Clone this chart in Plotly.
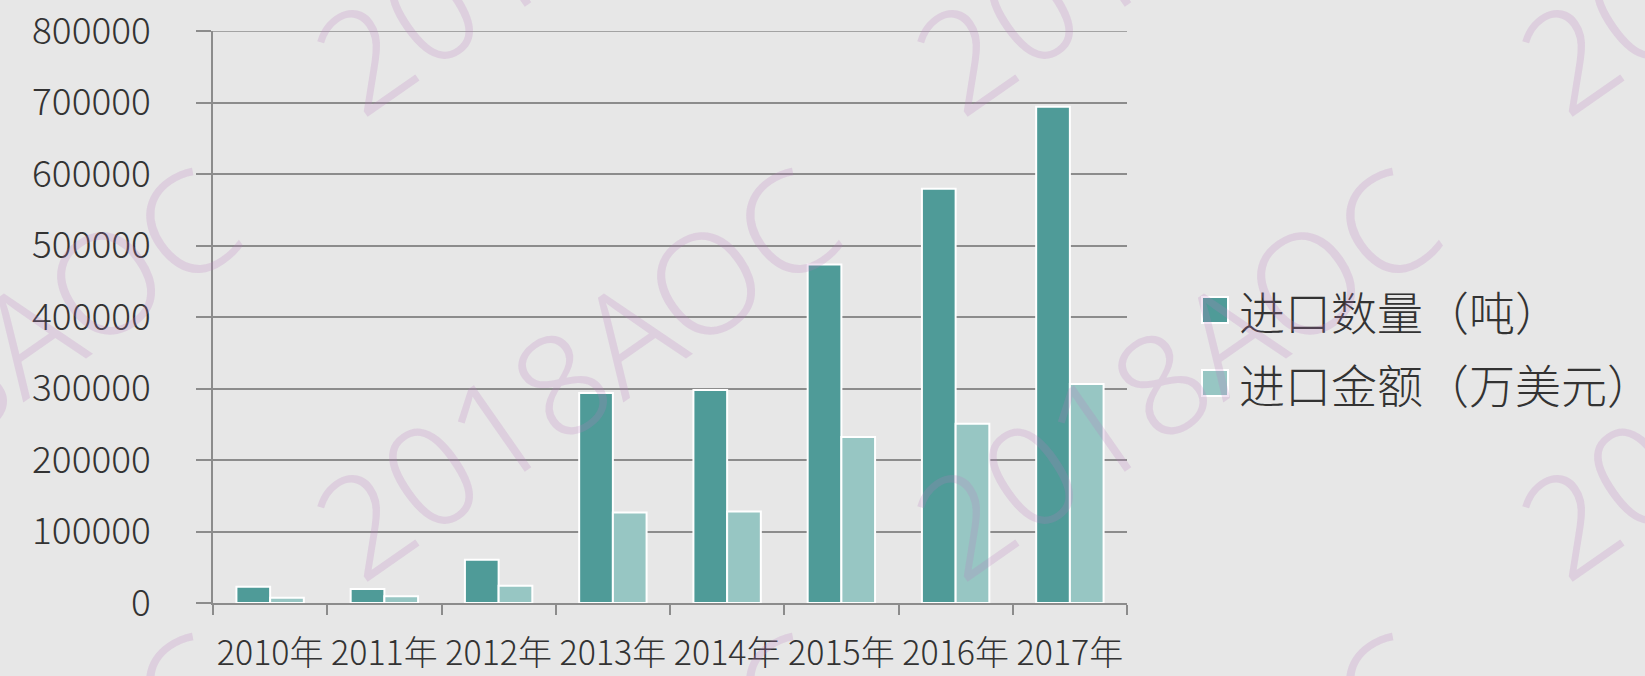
import plotly.graph_objects as go

categories = ["2010年", "2011年", "2012年", "2013年", "2014年", "2015年", "2016年", "2017年"]
qty_tons = [22800, 19600, 60600, 293600, 297800, 473300, 579200, 694000]
value_musd = [7400, 9400, 24300, 126500, 127900, 232000, 250600, 306200]
series_names = ["进口数量（吨）", "进口金额（万美元）"]
y_ticks = [0, 100000, 200000, 300000, 400000, 500000, 600000, 700000, 800000]

dark = "#4F9B98"
light = "#97C6C3"
grid = "#8C8C8C"
font_family = "Noto Sans CJK SC"

fig = go.Figure()
fig.add_trace(go.Bar(x=categories, y=qty_tons, name=series_names[0],
                     marker=dict(color=dark, line=dict(color="white", width=2)),
                     showlegend=False))
fig.add_trace(go.Bar(x=categories, y=value_musd, name=series_names[1],
                     marker=dict(color=light, line=dict(color="white", width=2)),
                     showlegend=False))

W, H = 1645, 676
ml, mr, mt, mb = 213, 518, 31, 73

fig.update_layout(
    width=W, height=H,
    margin=dict(l=ml, r=mr, t=mt, b=mb, autoexpand=False),
    paper_bgcolor="#E7E7E7", plot_bgcolor="#E7E7E7",
    barmode="group", bargap=0.41, bargroupgap=0.0,
    font=dict(family=font_family, color="#333333"),
)
fig.update_yaxes(range=[0, 800000], tickvals=y_ticks, ticktext=[str(v) for v in y_ticks],
                 automargin=False,
                 showgrid=True, gridcolor=grid, gridwidth=1.5,
                 showline=True, linecolor=grid, linewidth=1.5,
                 ticks="outside", ticklen=15, tickcolor=grid, tickwidth=1.5,
                 ticklabelstandoff=38, zeroline=False,
                 tickfont=dict(size=37, family=font_family, weight=300, color="#333333"))
fig.update_xaxes(type="category", tickson="boundaries", automargin=False, tickangle=0,
                 showline=True, linecolor=grid, linewidth=1.5,
                 ticks="outside", ticklen=10, tickcolor=grid, tickwidth=1.5,
                 ticklabelstandoff=19, showgrid=False,
                 tickfont=dict(size=34, family=font_family, weight=300, color="#333333"))

# top gridline at the range edge (plotly hides the edge gridline)
fig.add_shape(type="line", xref="paper", yref="y", x0=0, x1=1,
              y0=y_ticks[-1], y1=y_ticks[-1], line=dict(color=grid, width=1.5))

pw = W - ml - mr
ph = H - mt - mb
def px_x(x):
    return (x - ml) / pw
def px_y(y):
    return (H - mb - y) / ph

# manual legend (larger swatches than plotly's built-in legend)
for i, (nm, col) in enumerate(zip(series_names, [dark, light])):
    cy = 310 + i * 73
    fig.add_shape(type="rect", xref="paper", yref="paper",
                  x0=px_x(1202), x1=px_x(1228), y0=px_y(cy + 13), y1=px_y(cy - 13),
                  fillcolor=col, line=dict(color="white", width=2))
    fig.add_annotation(xref="paper", yref="paper", x=px_x(1237), y=px_y(cy),
                       xanchor="left", yanchor="middle", showarrow=False, text=nm,
                       font=dict(size=46, family=font_family, weight=300, color="#333333"))

# watermark tiling
for cy in (-95, 370, 835):
    for cx in (-26, 574, 1174, 1779):
        fig.add_annotation(xref="paper", yref="paper", x=px_x(cx), y=px_y(cy),
                           xanchor="center", yanchor="middle", showarrow=False,
                           text="2018AOC", textangle=-35,
                           font=dict(size=140, family="Noto Sans", weight=300,
                                     color="rgba(185,125,190,0.22)"))

fig.write_html("out.html", config={"displayModeBar": False},
               post_script="document.body.style.margin='0px';document.body.style.overflow='hidden';")
